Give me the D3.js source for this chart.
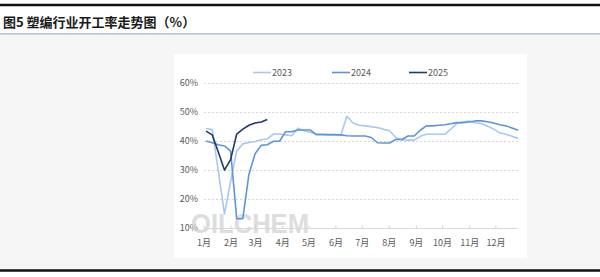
<!DOCTYPE html>
<html>
<head>
<meta charset="utf-8">
<script src="https://cdn.jsdelivr.net/npm/d3@7"></script>
<style>
  html, body { margin: 0; padding: 0; background: #ffffff; }
  svg { display: block; }
</style>
</head>
<body>
<svg id="chart" width="600" height="277"></svg>
<script>
// ---------- data ----------
const titleText = "图5 塑编行业开工率走势图（%）";
const monthLabels = ["1月","2月","3月","4月","5月","6月","7月","8月","9月","10月","11月","12月"];
const monthStartDays = [0,31,59,90,120,151,181,212,243,273,304,334];
const yTicks = [10,20,30,40,50,60];
const yTickLabels = ["10%","20%","30%","40%","50%","60%"];
const seriesNames = ["2023","2024","2025"];
const seriesColors = ["#a9c8ee","#5d95dc","#1c3a6b"];
const v2023 = [44.2,43.8,29.5,14.8,26,36.5,38.9,39.4,39.7,40.3,
               40.6,42.3,42.3,42.0,41.7,44.3,43.4,42.9,42.3,42.2,
               42.0,42.0,41.8,48.4,46.1,45.3,45.1,44.8,44.5,43.9,
               43.4,41.1,40.3,40.2,40.2,41.5,42.2,42.2,42.2,42.2,
               44.0,45.9,46.4,46.8,46.1,45.9,45.0,44.0,42.7,42.2,
               41.5,40.8];
const v2024 = [39.9,39.3,38.6,38.2,36.4,13.2,13.2,28.5,35.5,38.4,
               38.6,39.8,39.8,43.1,43.1,43.7,43.7,43.7,42.1,42.1,
               42.1,42.1,42.0,41.7,41.6,41.6,41.6,41.1,39.3,39.2,
               39.2,40.4,40.4,41.6,41.6,43.6,45.1,45.1,45.3,45.5,
               45.8,46.2,46.2,46.4,46.8,46.8,46.5,46.1,45.5,45.1,
               44.4,43.6];
const v2025 = [43.3,42.0,36.0,29.9,33.5,42.3,44.0,45.3,46.1,46.4,47.3];
const seriesValues = [v2023, v2024, v2025];
// weekly observations: day-of-year of week i
const firstDay = 3, weekLen = 7;

// ---------- layout ----------
const svg = d3.select("#chart");
const W = 600, H = 277;
const cnFont = "'Noto Sans CJK SC', 'Microsoft YaHei', sans-serif";

// page decorations
svg.append("rect").attr("x",0).attr("y",0).attr("width",W).attr("height",H).attr("fill","#ffffff");
svg.append("rect").attr("x",0).attr("y",34.5).attr("width",W).attr("height",235).attr("fill","#f6f6f6");
svg.append("rect").attr("x",174).attr("y",54).attr("width",353).attr("height",204).attr("fill","#ffffff");
svg.append("line").attr("x1",0).attr("x2",W).attr("y1",5).attr("y2",5)
   .attr("stroke","#111").attr("stroke-width",2.6);
svg.append("line").attr("x1",0).attr("x2",W).attr("y1",33.8).attr("y2",33.8)
   .attr("stroke","#a3b3c8").attr("stroke-width",1.2);
svg.append("line").attr("x1",0).attr("x2",W).attr("y1",270.5).attr("y2",270.5)
   .attr("stroke","#111").attr("stroke-width",2.6);

svg.append("text").attr("x",3).attr("y",26.5)
   .attr("font-family",cnFont).attr("font-weight","bold").attr("font-size",13)
   .attr("fill","#1a1a1a").text(titleText);

// scales
const x = d3.scaleLinear().domain([0,365]).range([203.5, 522.5]);
const y = d3.scaleLinear().domain([10,60]).range([228, 82.5]);
const plotX0 = 204, plotX1 = 518;

// grid
const grid = svg.append("g");
grid.selectAll("line").data(yTicks.filter(d => d > 10)).join("line")
  .attr("x1",plotX0).attr("x2",plotX1)
  .attr("y1",d => Math.round(y(d))+0.5).attr("y2",d => Math.round(y(d))+0.5)
  .attr("stroke","#d6d6d6").attr("stroke-width",1).attr("stroke-dasharray","2,2");

// y labels
svg.append("g").selectAll("text").data(yTicks).join("text")
  .attr("x",198).attr("y",d => y(d)).attr("dy","0.35em")
  .attr("text-anchor","end").attr("font-family",cnFont).attr("font-size",9)
  .attr("fill","#595959").text((d,i) => yTickLabels[i]);

// watermark
svg.append("text").attr("x",191).attr("y",233)
  .attr("font-family","'Liberation Sans', Arial, sans-serif").attr("font-weight","bold")
  .attr("font-size",28).attr("textLength",118).attr("lengthAdjust","spacingAndGlyphs")
  .attr("fill","#d2d2d2").attr("opacity",0.75).text("OILCHEM");

// x axis
const xAxis = d3.axisBottom(x).tickValues(monthStartDays)
  .tickFormat((d,i) => monthLabels[i]).tickSize(-3).tickPadding(11);
const gx = svg.append("g").attr("transform","translate(0,228.5)").call(xAxis);
gx.select(".domain").remove();
gx.append("line").attr("x1",plotX0).attr("x2",plotX1).attr("y1",0).attr("y2",0)
  .attr("stroke","#d9d9d9").attr("stroke-width",1);
gx.selectAll(".tick line").attr("stroke","#d0d0d0");
gx.selectAll(".tick text").attr("font-family",cnFont).attr("font-size",9).attr("fill","#595959");

// lines
const line = d3.line().x((d,i) => x(firstDay + weekLen*i)).y(d => y(d));
svg.append("g").selectAll("path").data(seriesValues).join("path")
  .attr("d", d => line(d)).attr("fill","none")
  .attr("stroke",(d,i) => seriesColors[i]).attr("stroke-width",1.6)
  .attr("stroke-linejoin","round");

// legend
const legendX = [253, 332, 409];
const lg = svg.append("g").selectAll("g").data(seriesNames).join("g")
  .attr("transform",(d,i) => `translate(${legendX[i]},72.5)`);
lg.append("line").attr("x1",0).attr("x2",18).attr("y1",0).attr("y2",0)
  .attr("stroke",(d,i) => seriesColors[i]).attr("stroke-width",1.6);
lg.append("text").attr("x",19).attr("y",0).attr("dy","0.35em")
  .attr("font-family",cnFont).attr("font-size",9).attr("fill","#595959").text(d => d);
</script>
</body>
</html>
